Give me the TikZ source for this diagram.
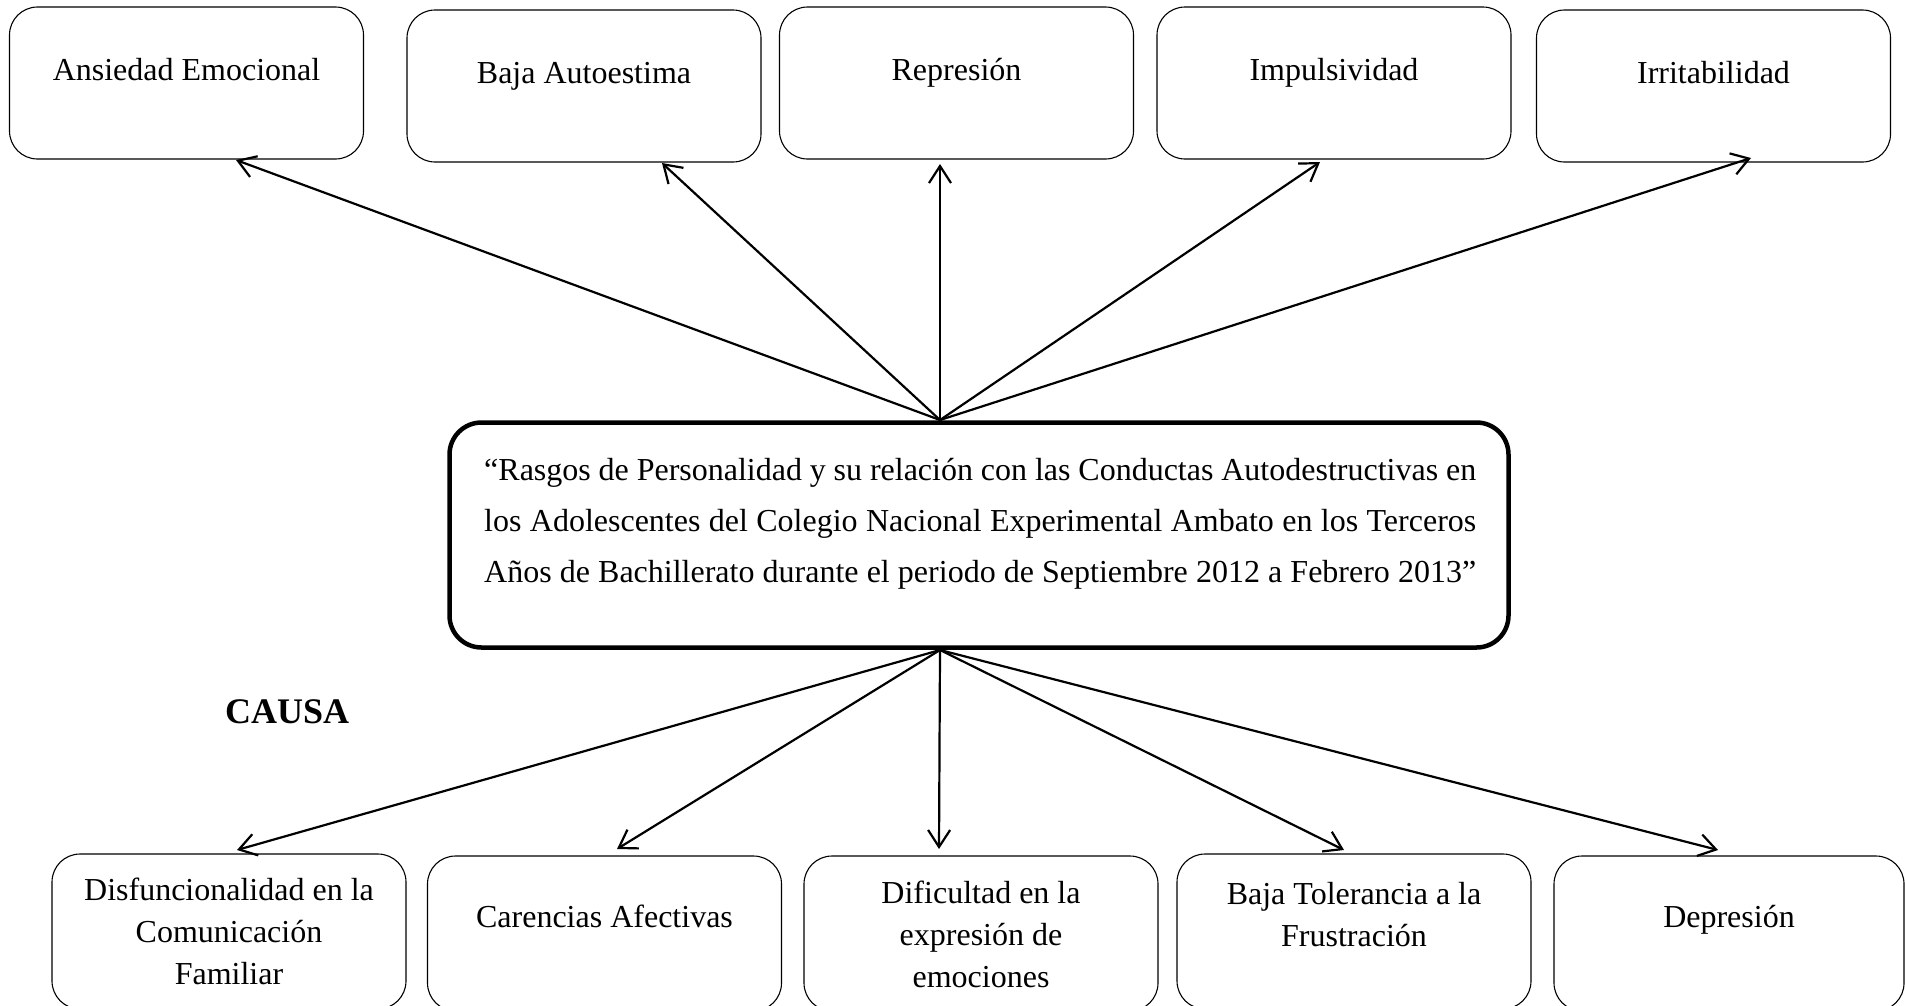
\documentclass[tikz,border=0pt]{standalone}
\usepackage{fontspec}
\setmainfont{Liberation Serif}
\usetikzlibrary{arrows.meta}
\tikzset{
  box/.style={draw, line width=1.1pt, rounded corners=28pt, minimum width=354pt, minimum height=152pt, inner sep=0pt},
  bbox/.style={box, minimum height=155pt},
  mainbox/.style={draw, line width=4.5pt, rounded corners=32pt, minimum width=1059pt, minimum height=225pt, inner sep=0pt},
  lbl/.style={font=\fontsize{32}{42}\selectfont, align=center, anchor=base, inner sep=0pt},
  arr/.style={line width=2.2pt, -{Straight Barb[length=17pt,width=22pt]}}
}
\begin{document}
\begin{tikzpicture}[x=1pt,y=-1pt]
\fill[white] (0,0) rectangle (1905,1005);
\useasboundingbox (0,0) rectangle (1905,1005);

% top boxes
\node[box] (t1) at (186.5,83) {};
\node[box] (t2) at (584,86) {};
\node[box] (t3) at (956.5,83) {};
\node[box] (t4) at (1334,83) {};
\node[box] (t5) at (1713.5,86) {};
\node[lbl] (lt1) at (186.5,80) {Ansiedad Emocional};
\node[lbl] (lt2) at (584,83) {Baja Autoestima};
\node[lbl] (lt3) at (956.5,80) {Represión};
\node[lbl] (lt4) at (1334,80) {Impulsividad};
\node[lbl] (lt5) at (1713.5,83) {Irritabilidad};

% main box
\node[mainbox] (m) at (979,535) {};
\node[font=\fontsize{32}{51}\selectfont, align=left, anchor=base west, inner sep=0pt] (mt) at (484,582) {%
\makebox[992pt][s]{“Rasgos de Personalidad y su relación con las Conductas Autodestructivas en}\\
\makebox[992pt][s]{los Adolescentes del Colegio Nacional Experimental Ambato en los Terceros}\\
\makebox[992pt][s]{Años de Bachillerato durante el periodo de Septiembre 2012 a Febrero 2013”}};

\node[font=\bfseries\fontsize{36}{40}\selectfont, anchor=base west, inner sep=0pt] (causa) at (225,723) {CAUSA};

% bottom boxes
\node[bbox] (b1) at (229,931.5) {};
\node[bbox] (b2) at (604.5,933.5) {};
\node[bbox] (b3) at (981,933.5) {};
\node[bbox] (b4) at (1354,931.5) {};
\node[bbox, minimum width=350pt] (b5) at (1729,933.5) {};
\node[lbl] (lb1) at (229,984) {Disfuncionalidad en la\\Comunicación\\Familiar};
\node[lbl] (lb2) at (604.5,927) {Carencias Afectivas};
\node[lbl] (lb3) at (981,987) {Dificultad en la\\expresión de\\emociones};
\node[lbl] (lb4) at (1354,946) {Baja Tolerancia a la\\Frustración};
\node[lbl] (lb5) at (1729,927) {Depresión};

% connector points
\coordinate (mtop) at (940,420);
\coordinate (mbot) at (940,650);
\coordinate (a1) at (236,160);
\coordinate (a2) at (662,163);
\coordinate (a3) at (940,164);
\coordinate (a4) at (1320,162);
\coordinate (a5) at (1751,158);
\coordinate (c1) at (237,850);
\coordinate (c2) at (617,849);
\coordinate (c3) at (939,849);
\coordinate (c4) at (1344,850);
\coordinate (c5) at (1718,850);

\foreach \p in {a1,a2,a3,a4,a5} \draw[arr] (mtop) -- (\p);
\foreach \p in {c1,c2,c3,c4,c5} \draw[arr] (mbot) -- (\p);
\end{tikzpicture}
\end{document}
